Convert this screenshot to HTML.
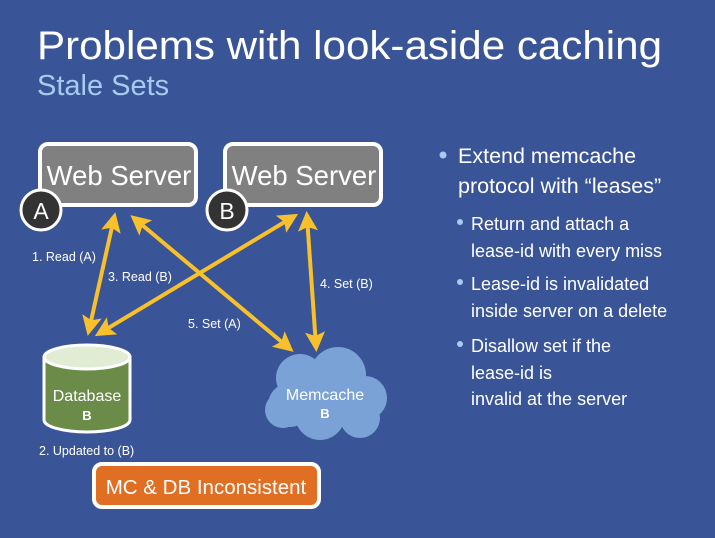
<!DOCTYPE html>
<html><head><meta charset="utf-8"><style>
html,body{margin:0;padding:0;background:#3a5597;}
svg{display:block;font-family:"Liberation Sans",Arial,sans-serif;}
</style></head><body>
<svg width="715" height="538" viewBox="0 0 715 538" xmlns="http://www.w3.org/2000/svg">
<rect width="715" height="538" fill="#3a5597"/>
<text x="37" y="59" font-size="40" fill="#fff" textLength="625" lengthAdjust="spacingAndGlyphs">Problems with look-aside caching</text>
<text x="37" y="95" font-size="29" fill="#a6cbee">Stale Sets</text>

<!-- right bullets -->
<circle cx="443" cy="155" r="3.5" fill="#a6cbee"/>
<text x="458" y="163" font-size="21.5" fill="#fff">Extend memcache</text>
<text x="458" y="193" font-size="21.5" fill="#fff">protocol with “leases”</text>
<g font-size="18" fill="#fff">
<circle cx="460" cy="222" r="3" fill="#a6cbee"/>
<text x="471" y="230">Return and attach a</text>
<text x="471" y="257">lease-id with every miss</text>
<circle cx="460" cy="282" r="3" fill="#a6cbee"/>
<text x="471" y="290">Lease-id is invalidated</text>
<text x="471" y="317">inside server on a delete</text>
<circle cx="460" cy="344" r="3" fill="#a6cbee"/>
<text x="471" y="352">Disallow set if the</text>
<text x="471" y="379">lease-id is</text>
<text x="471" y="405">invalid at the server</text>
</g>

<!-- web servers -->
<rect x="40" y="144" width="156" height="61" rx="8" fill="#808080" stroke="#fff" stroke-width="4"/>
<text x="119" y="185" font-size="27.5" fill="#fff" text-anchor="middle">Web Server</text>
<circle cx="41" cy="210" r="20" fill="#333" stroke="#fff" stroke-width="3"/>
<text x="41" y="219" font-size="23" fill="#fff" text-anchor="middle">A</text>

<rect x="225" y="144" width="156" height="61" rx="8" fill="#808080" stroke="#fff" stroke-width="4"/>
<text x="304" y="185" font-size="27.5" fill="#fff" text-anchor="middle">Web Server</text>
<circle cx="227" cy="210" r="20" fill="#333" stroke="#fff" stroke-width="3"/>
<text x="227" y="219" font-size="23" fill="#fff" text-anchor="middle">B</text>

<!-- arrows -->
<defs>
<marker id="ah" markerWidth="5" markerHeight="5" refX="3.5" refY="2.5" orient="auto-start-reverse" markerUnits="strokeWidth">
<path d="M0,0 L5,2.5 L0,5 L1,2.5 Z" fill="#f8c02a"/>
</marker>
</defs>
<g stroke="#f8c02a" stroke-width="4" fill="none" marker-start="url(#ah)" marker-end="url(#ah)">
<line x1="114" y1="218" x2="89" y2="330"/>
<line x1="293" y1="217" x2="100" y2="333"/>
<line x1="135" y1="219" x2="289" y2="348"/>
<line x1="307" y1="217" x2="316" y2="346"/>
</g>

<g font-size="12.5" fill="#fff">
<text x="32" y="261">1. Read (A)</text>
<text x="108" y="281">3. Read (B)</text>
<text x="320" y="288">4. Set (B)</text>
<text x="188" y="328">5. Set (A)</text>
<text x="39" y="455">2. Updated to (B)</text>
</g>

<!-- database -->
<path d="M44,357 L44,420 A43,12 0 0 0 130,420 L130,357" fill="#6b8c48" stroke="#fff" stroke-width="3"/>
<ellipse cx="87" cy="357" rx="43" ry="12" fill="#e0ecd3" stroke="#fff" stroke-width="3"/>
<text x="87" y="401" font-size="16" fill="#fff" text-anchor="middle">Database</text>
<text x="87" y="420" font-size="13" fill="#fff" text-anchor="middle" font-weight="bold">B</text>

<!-- memcache cloud -->
<g fill="#7ba2d6">
<circle cx="300" cy="378" r="24"/>
<circle cx="338" cy="375" r="28"/>
<circle cx="365" cy="398" r="22"/>
<circle cx="290" cy="405" r="22"/>
<circle cx="320" cy="415" r="25"/>
<circle cx="360" cy="418" r="20"/>
<circle cx="283" cy="410" r="18"/>
<rect x="285" y="385" width="85" height="35"/>
</g>
<text x="325" y="400" font-size="16" fill="#fff" text-anchor="middle">Memcache</text>
<text x="325" y="418" font-size="13" fill="#fff" text-anchor="middle" font-weight="bold">B</text>

<!-- inconsistent box -->
<rect x="94" y="464" width="225" height="43" rx="8" fill="#e06f24" stroke="#fff" stroke-width="4"/>
<text x="206" y="494" font-size="20.5" fill="#fff" text-anchor="middle">MC &amp; DB Inconsistent</text>
</svg>
</body></html>
